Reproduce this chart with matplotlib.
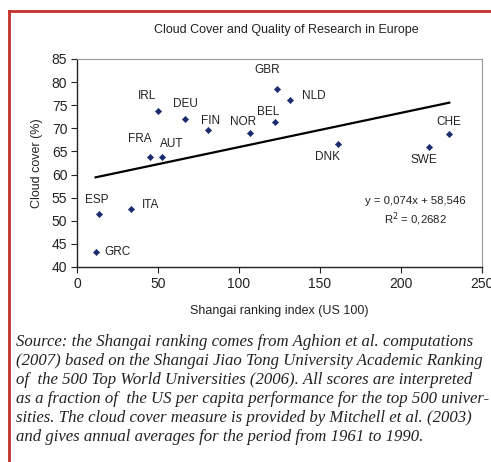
import matplotlib
matplotlib.use("Agg")
import matplotlib.pyplot as plt
from matplotlib.lines import Line2D
import numpy as np

countries = ["GRC", "ESP", "ITA", "FRA", "AUT", "IRL", "DEU", "FIN", "NOR",
             "BEL", "GBR", "NLD", "DNK", "SWE", "CHE"]
shangai = [11.5, 13.6, 33.3, 44.9, 52.7, 50.0, 66.9, 80.9, 106.5,
           122.2, 123.6, 131.3, 160.9, 217.1, 229.8]
cloud = [43.2, 51.5, 52.5, 63.7, 63.9, 73.8, 72.0, 69.65, 68.9,
         71.45, 78.5, 76.2, 66.55, 65.9, 68.7]
slope, intercept = 0.074, 58.546
r2_text = "0,2682"
xticks = [0, 50, 100, 150, 200, 250]
yticks = [40, 45, 50, 55, 60, 65, 70, 75, 80, 85]

# label offsets in pixels (dx, dy, ha)
offsets = {
    "GRC": (9, 0, "left"), "ESP": (-2, 14, "center"), "ITA": (11, 4, "left"),
    "FRA": (-10, 18, "center"), "AUT": (9, 13, "center"), "IRL": (-11, 15, "center"),
    "DEU": (0, 15, "center"), "FIN": (3, 9, "center"), "NOR": (-6, 11, "center"),
    "BEL": (-7, 10, "center"), "GBR": (-10, 19, "center"), "NLD": (12, 4, "left"),
    "DNK": (-10, -13, "center"), "SWE": (-5, -13, "center"), "CHE": (0, 12, "center"),
}

plt.rcParams["font.family"] = ["Liberation Sans", "DejaVu Sans"]

W, H = 491, 462
fig = plt.figure(figsize=(W / 100, H / 100), dpi=100)
fig.patch.set_facecolor("white")

ax = fig.add_axes([77 / W, 1 - 267 / H, (482 - 77) / W, (267 - 59) / H])
ax.set_xlim(0, 250)
ax.set_ylim(40, 85)
ax.set_xticks(xticks)
ax.set_yticks(yticks)
ax.tick_params(direction="out", length=4, width=0.8, labelsize=10, colors="#222222", pad=3)
for s in ["left", "bottom"]:
    ax.spines[s].set_color("#222222")
    ax.spines[s].set_linewidth(1.0)
for s in ["top", "right"]:
    ax.spines[s].set_color("#9a9a9a")
    ax.spines[s].set_linewidth(0.8)

xs = np.array(shangai)
xl = np.array([xs.min(), xs.max()])
ax.plot(xl, slope * xl + intercept, color="black", lw=1.6, zorder=2)
ax.plot(shangai, cloud, linestyle="none", marker="D", markersize=3.2,
        markeredgewidth=0.4, color="#1c2a6e", zorder=3)

for c, x, y in zip(countries, shangai, cloud):
    dx, dy, ha = offsets[c]
    ax.annotate(c, (x, y), xytext=(dx, dy), textcoords="offset pixels",
                ha=ha, va="center", fontsize=8.5, color="#222222")

ax.text(0.835, 0.315, "y = 0,074x + 58,546", transform=ax.transAxes,
        ha="center", va="center", fontsize=8.2, color="#222222")
ax.text(0.835, 0.232, "R$^2$ = " + r2_text, transform=ax.transAxes,
        ha="center", va="center", fontsize=8.2, color="#222222")

ax.set_xlabel("Shangai ranking index (US 100)", fontsize=9, color="#222222", labelpad=10)
ax.set_ylabel("Cloud cover (%)", fontsize=9, color="#222222", labelpad=6)

fig.text(286 / W, 1 - 30 / H, "Cloud Cover and Quality of Research in Europe",
         ha="center", va="center", fontsize=9, color="#222222")

# red frame
red = "#c4302b"
fig.add_artist(Line2D([9 / W, 1.0], [1 - 10.5 / H] * 2, transform=fig.transFigure,
                      color=red, lw=2.0))
fig.add_artist(Line2D([9 / W] * 2, [0, 1 - 10.5 / H], transform=fig.transFigure,
                      color=red, lw=2.0))

# partial glyph from text above the frame
fig.text(337 / W, 1 + 6 / H, "g", ha="center", va="baseline", fontsize=13,
         family="Liberation Serif", color="#222222")

caption = [
    "Source: the Shangai ranking comes from Aghion et al. computations",
    "(2007) based on the Shangai Jiao Tong University Academic Ranking",
    "of  the 500 Top World Universities (2006). All scores are interpreted",
    "as a fraction of  the US per capita performance for the top 500 univer-",
    "sities. The cloud cover measure is provided by Mitchell et al. (2003)",
    "and gives annual averages for the period from 1961 to 1990.",
]
ys = [342, 361, 380, 399, 418, 437]
for line, yy in zip(caption, ys):
    fig.text(16 / W, 1 - yy / H, line, ha="left", va="center", fontsize=12.1,
             family="Liberation Serif", style="italic", color="#222222")

fig.savefig("out.png", dpi=100, facecolor="white")
